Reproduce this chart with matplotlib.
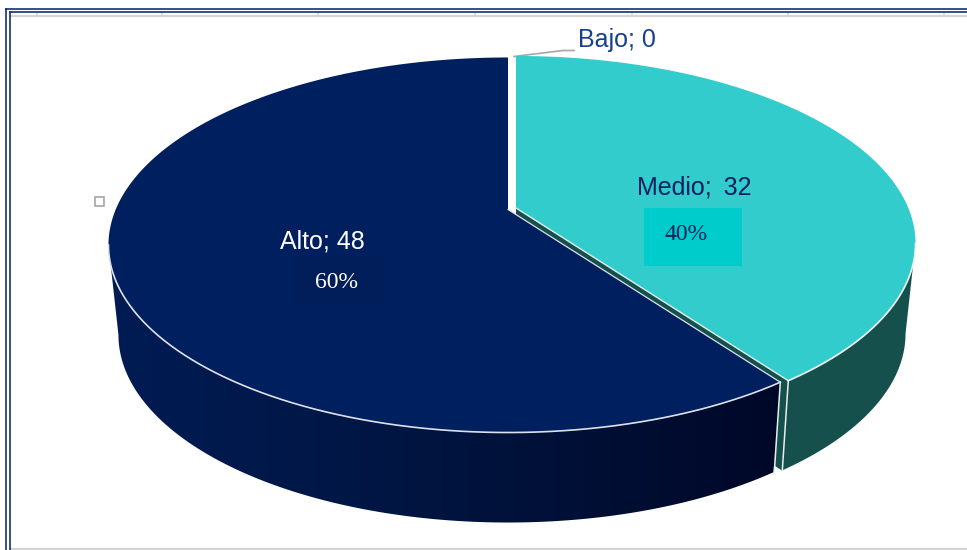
import numpy as np
import matplotlib
matplotlib.use("Agg")
import matplotlib.pyplot as plt
from matplotlib.colors import LinearSegmentedColormap
from matplotlib.patches import Polygon, Rectangle

categories = ["Bajo", "Medio", "Alto"]
values = [0, 32, 48]
shares = ["", "40%", "60%"]

TOP_COLORS = {"Medio": "#33CCCC", "Alto": "#001F5F"}
MEDIO_SIDE = "#15504D"
ALTO_SIDE = ["#001C54", "#00143F", "#000828"]

# perspective of the tilted pie
CX, CY = 512, 208
A0, B0, K = 392.3, 180.8, 0.1893
DEPTH = 90
SHRINK = 0.975
# angles where the rim reaches its far right and far left
RIGHT_RIM = np.degrees(np.arccos(-K))
LEFT_RIM = 360 - RIGHT_RIM


# angle is clockwise from 12 o'clock, in degrees
def top_edge(theta, dx=0, dy=0):
    t = np.radians(theta)
    den = 1 + K * np.cos(t)
    return CX + dx + A0 * np.sin(t) / den, CY + dy - B0 * np.cos(t) / den


def base_edge(theta, dx=0, dy=0):
    x, y = top_edge(theta, dx, dy)
    return CX + dx + SHRINK * (x - CX - dx), y + DEPTH


def arc(func, start, end, dx, dy):
    th = np.linspace(start, end, 300)
    x, y = func(th, dx, dy)
    return np.column_stack([x, y])


fig = plt.figure(figsize=(9.67, 5.5), dpi=100)
ax = fig.add_axes([0, 0, 1, 1])
ax.axis("off")

# angles of the slices from the values
total = sum(values)
medio_end = 360 * (values[0] + values[1]) / total
m_dx, m_dy = 4, 0
a_dx, a_dy = -4, 1.5

# Medio wall
m_top = arc(top_edge, RIGHT_RIM, medio_end, m_dx, m_dy)
m_base = arc(base_edge, RIGHT_RIM, medio_end, m_dx, m_dy)
ax.add_patch(Polygon(np.vstack([m_top, m_base[::-1]]), fc=MEDIO_SIDE, ec="none", zorder=2))
# inner cut face of Medio
tip = np.array(top_edge(medio_end, m_dx, m_dy))
apex = np.array([CX + m_dx, CY + m_dy])
ax.add_patch(Polygon([apex, tip, tip + [-6, DEPTH], apex + [0, DEPTH]], fc=MEDIO_SIDE, ec="none", zorder=2))
ax.plot([tip[0], tip[0] - 6], [tip[1], tip[1] + DEPTH], color="#E8EEEE", lw=1.1, zorder=3)

# Medio top
m_arc = arc(top_edge, 0, medio_end, m_dx, m_dy)
ax.add_patch(Polygon(np.vstack([apex, m_arc]), fc=TOP_COLORS["Medio"], ec="none", zorder=4))
ax.plot(*arc(top_edge, RIGHT_RIM, medio_end, m_dx, m_dy).T, color="#F2F8F8", lw=1.2, zorder=5)
ax.plot([apex[0], tip[0]], [apex[1], tip[1]], color="#E4EEEE", lw=1.0, zorder=5)

# Alto wall with its left to right shading
a_top = arc(top_edge, medio_end, LEFT_RIM, a_dx, a_dy)
a_base = arc(base_edge, medio_end, LEFT_RIM, a_dx, a_dy)
wall = Polygon(np.vstack([a_top, a_base[::-1]]), fc="none", ec="none", zorder=6)
ax.add_patch(wall)
cmap = LinearSegmentedColormap.from_list("alto_side", ALTO_SIDE)
img = ax.imshow(np.linspace(0, 1, 256).reshape(1, -1), cmap=cmap, extent=(108, 780, 525, 200),
                aspect="auto", zorder=6)
img.set_clip_path(wall)
a_tip = np.array(top_edge(medio_end, a_dx, a_dy))
ax.plot([a_tip[0], a_tip[0] - 6], [a_tip[1], a_tip[1] + DEPTH], color="#E8EEEE", lw=1.1, zorder=7)

# Alto top
a_apex = np.array([CX + a_dx, CY + a_dy])
a_arc = arc(top_edge, medio_end, 360, a_dx, a_dy)
ax.add_patch(Polygon(np.vstack([a_apex, a_arc]), fc=TOP_COLORS["Alto"], ec="none", zorder=8))
ax.plot(*arc(top_edge, medio_end, LEFT_RIM, a_dx, a_dy).T, color="#DDE2EA", lw=1.2, zorder=9)
ax.plot([a_apex[0], a_tip[0]], [a_apex[1], a_tip[1]], color="#DDE2EA", lw=0.9, zorder=9)

# boxes behind the percentages
ax.add_patch(Rectangle((644, 208), 98, 58, fc="#00CCCC", ec="none", zorder=10))
ax.add_patch(Rectangle((294, 257), 89, 46, fc="#011D5A", ec="none", zorder=10))

# data labels
ax.text(578, 40, f"{categories[0]}; {values[0]}", family="Liberation Sans", fontsize=18,
        color="#17408F", va="center", ha="left", zorder=11)
ax.text(637, 187, f"{categories[1]}; \u2009{values[1]}", family="Liberation Sans", fontsize=18,
        color="#002060", va="center", ha="left", zorder=11)
ax.text(280, 241.5, f"{categories[2]}; {values[2]}", family="Liberation Sans", fontsize=18,
        color="white", va="center", ha="left", zorder=11)
ax.text(686, 235, shares[1], family="Liberation Serif", fontsize=17, color="#002060",
        va="center", ha="center", zorder=11)
ax.text(336, 283, shares[2], family="Liberation Serif", fontsize=17, color="white",
        va="center", ha="center", zorder=11)

# leader line for the empty slice
ax.plot([514, 563, 574], [56.5, 50.5, 50.5], color="#A6A6A6", lw=1.2, zorder=3)

# small selection handle
ax.add_patch(Rectangle((94.5, 196.5), 9, 9, fc="white", ec="#A6A6A6", lw=1.2, zorder=3))

# double frame
for x0 in [6, 9.5]:
    ax.plot([x0, x0], [550, 8.8 if x0 == 6 else 12], color="#002060", lw=1.1, zorder=12)
for y0, x0 in [(8.8, 6), (12, 9.5)]:
    ax.plot([x0, 967], [y0, y0], color="#002060", lw=1.1, zorder=12)

# grey rules and ticks along the sheet edge
ax.plot([10.5, 967], [15.5, 15.5], color="#D4D4D4", lw=1.6, zorder=1)
ax.plot([10.5, 967], [548.8, 548.8], color="#D4D4D4", lw=1.6, zorder=1)
for tx in [37, 162, 318, 475, 632, 788, 944]:
    ax.plot([tx, tx], [12.5, 15.5], color="#D4D4D4", lw=1.2, zorder=1)

ax.set_xlim(0, 967)
ax.set_ylim(550, 0)

fig.savefig("out.png", dpi=100, facecolor="white")
